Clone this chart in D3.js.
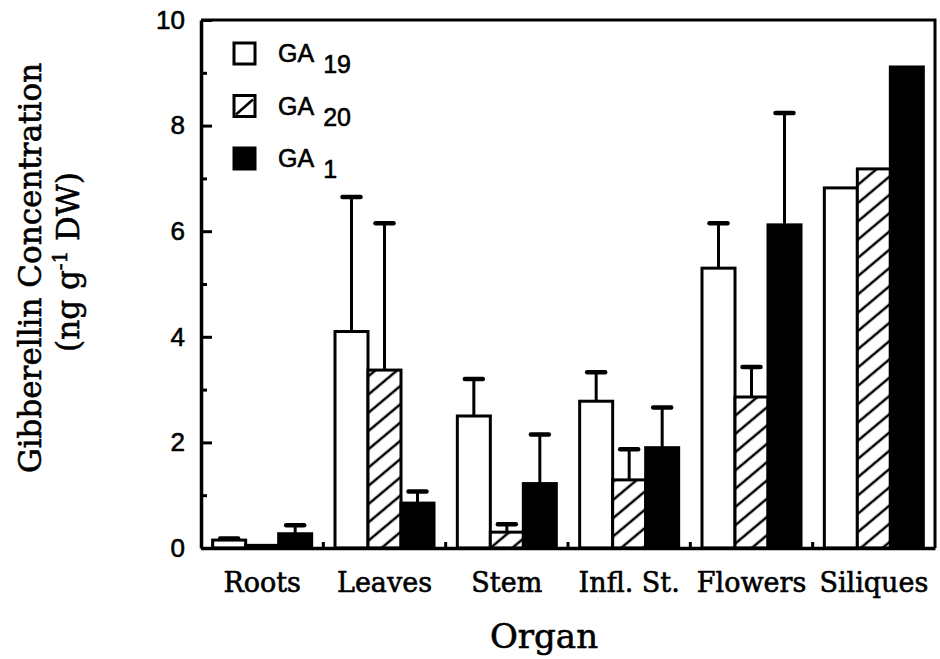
<!DOCTYPE html>
<html>
<head>
<meta charset="utf-8">
<script src="https://cdn.jsdelivr.net/npm/d3@7"></script>
<style>
  body { margin: 0; background: #fff; }
  svg { display: block; }
  text { stroke: #000; stroke-width: 0.6px; }
</style>
</head>
<body>
<svg id="chart"></svg>
<script>
// Data (ng g-1 DW)
const organs = ["Roots", "Leaves", "Stem", "Infl. St.", "Flowers", "Siliques"];
const seriesNames = ["GA19", "GA20", "GA1"];
const ga19 = [0.15, 4.1, 2.5, 2.78, 5.3, 6.82];
const ga20 = [0.05, 3.37, 0.3, 1.29, 2.86, 7.18];
const ga1 = [0.27, 0.85, 1.22, 1.9, 6.12, 9.11];
// upward error bars (null = none drawn)
const ga19Err = [0.03, 2.55, 0.7, 0.55, 0.85, null];
const ga20Err = [null, 2.78, 0.15, 0.58, 0.57, null];
const ga1Err = [0.16, 0.22, 0.93, 0.76, 2.12, null];
const yTicks = [0, 2, 4, 6, 8, 10];
const yMinorTicks = [1, 3, 5, 7, 9];

const width = 940, height = 659;
const margin = {top: 20, right: 5, bottom: 111, left: 201};
const serif = "'DejaVu Serif', serif";
const sans = "'Liberation Sans', Arial, sans-serif";

const svg = d3.select("#chart").attr("width", width).attr("height", height);

const x0 = d3.scaleBand()
  .domain(organs)
  .range([margin.left, width - margin.right]);
const x1 = d3.scaleBand()
  .domain(seriesNames)
  .range([0, 99]);
const groupPad = (x0.bandwidth() - 99) / 2;
const y = d3.scaleLinear()
  .domain([0, 10])
  .range([height - margin.bottom, margin.top]);

// hatch pattern for GA20
const defs = svg.append("defs");
const pat = defs.append("pattern")
  .attr("id", "hatch")
  .attr("patternUnits", "userSpaceOnUse")
  .attr("width", 10)
  .attr("height", 14)
  .attr("patternTransform", "rotate(-40)");
pat.append("rect").attr("width", 10).attr("height", 14).attr("fill", "#fff");
pat.append("line")
  .attr("x1", 0).attr("x2", 10)
  .attr("y1", 7).attr("y2", 7)
  .attr("stroke", "#000")
  .attr("stroke-width", 2.5);

const fills = {GA19: "#fff", GA20: "url(#hatch)", GA1: "#000"};
const values = {GA19: ga19, GA20: ga20, GA1: ga1};
const errors = {GA19: ga19Err, GA20: ga20Err, GA1: ga1Err};

const rows = [];
organs.forEach((o, i) => {
  seriesNames.forEach((s) => {
    rows.push({organ: o, series: s, value: values[s][i], err: errors[s][i]});
  });
});

const barMid = d => x0(d.organ) + groupPad + x1(d.series) + x1.bandwidth() / 2;

// Error bars (behind bars)
const errRows = rows.filter(d => d.err !== null);
const errG = svg.append("g").attr("class", "errors");
errG.selectAll("line.stem")
  .data(errRows)
  .enter().append("line")
  .attr("class", "stem")
  .attr("x1", barMid)
  .attr("x2", barMid)
  .attr("y1", d => y(d.value))
  .attr("y2", d => y(d.value + d.err))
  .attr("stroke", "#000")
  .attr("stroke-width", 3);
errG.selectAll("line.cap")
  .data(errRows)
  .enter().append("line")
  .attr("class", "cap")
  .attr("x1", d => barMid(d) - 9)
  .attr("x2", d => barMid(d) + 9)
  .attr("y1", d => y(d.value + d.err))
  .attr("y2", d => y(d.value + d.err))
  .attr("stroke", "#000")
  .attr("stroke-width", 4.5)
  .attr("stroke-linecap", "round");

// Bars
svg.append("g").attr("class", "bars")
  .selectAll("rect")
  .data(rows)
  .enter().append("rect")
  .attr("x", d => x0(d.organ) + groupPad + x1(d.series))
  .attr("y", d => y(d.value))
  .attr("width", x1.bandwidth())
  .attr("height", d => y(0) - y(d.value))
  .attr("fill", d => fills[d.series])
  .attr("stroke", "#000")
  .attr("stroke-width", 3);

// Frame (top and right)
svg.append("path")
  .attr("d", d3.line()([[margin.left, y(10)], [width - margin.right, y(10)], [width - margin.right, y(0)]]))
  .attr("fill", "none")
  .attr("stroke", "#000")
  .attr("stroke-width", 3);

// Y axis: major ticks with labels, minor ticks without
const yAxis = svg.append("g")
  .attr("transform", "translate(" + margin.left + ",0)")
  .call(d3.axisLeft(y).tickValues(yTicks).tickSize(-11).tickSizeOuter(0).tickPadding(16));
yAxis.select(".domain").attr("stroke-width", 3.5);
yAxis.selectAll(".tick line").attr("stroke-width", 3);
yAxis.selectAll(".tick text")
  .style("font-family", sans)
  .style("font-size", "26px")
  .attr("fill", "#000");

const yMinor = svg.append("g")
  .attr("transform", "translate(" + margin.left + ",0)")
  .call(d3.axisLeft(y).tickValues(yMinorTicks).tickSize(-6).tickFormat(""));
yMinor.select(".domain").remove();
yMinor.selectAll(".tick line").attr("stroke-width", 3);

// X axis
const xAxis = svg.append("g")
  .attr("transform", "translate(0," + y(0) + ")")
  .call(d3.axisBottom(x0).tickSize(0).tickPadding(25).tickSizeOuter(0));
xAxis.select(".domain").attr("stroke-width", 3.5);
xAxis.selectAll(".tick text")
  .style("font-family", serif)
  .style("font-size", "27px")
  .attr("fill", "#000");

// small upward ticks between organ groups
svg.append("g").attr("class", "group-ticks")
  .selectAll("line")
  .data(organs.slice(1))
  .enter().append("line")
  .attr("x1", d => x0(d))
  .attr("x2", d => x0(d))
  .attr("y1", y(0))
  .attr("y2", y(0) - 6)
  .attr("stroke", "#000")
  .attr("stroke-width", 3);

// Axis titles
svg.append("text")
  .attr("x", 544)
  .attr("y", 648)
  .attr("text-anchor", "middle")
  .style("font-family", serif)
  .style("font-size", "34px")
  .text("Organ");

const yTitle = svg.append("text")
  .attr("transform", "translate(41,268) rotate(-90)")
  .attr("text-anchor", "middle")
  .style("font-family", serif)
  .style("font-size", "31px");
yTitle.append("tspan")
  .attr("x", 0).attr("y", 0)
  .text("Gibberellin Concentration");
const yTitle2 = svg.append("text")
  .attr("transform", "translate(79,262) rotate(-90)")
  .attr("text-anchor", "middle")
  .style("font-family", serif)
  .style("font-size", "31px");
yTitle2.append("tspan").text("(ng g");
yTitle2.append("tspan").attr("dy", -12).style("font-size", "20px").text("-1");
yTitle2.append("tspan").attr("dy", 12).text(" DW)");

// Legend
const legendSubs = ["19", "20", "1"];
const legend = svg.append("g").attr("class", "legend")
  .selectAll("g")
  .data(seriesNames)
  .enter().append("g")
  .attr("transform", (d, i) => "translate(234," + (43 + i * 52.5) + ")");
legend.append("rect")
  .attr("width", 21)
  .attr("height", 21)
  .attr("fill", d => d === "GA1" ? "#000" : "#fff")
  .attr("stroke", "#000")
  .attr("stroke-width", 3);
legend.filter(d => d === "GA20")
  .append("line")
  .attr("x1", 2).attr("y1", 19)
  .attr("x2", 19).attr("y2", 4)
  .attr("stroke", "#000")
  .attr("stroke-width", 2.5);
const lt = legend.append("text")
  .attr("x", 44)
  .attr("y", 19)
  .style("font-family", sans)
  .style("font-size", "25px");
lt.append("tspan").text("GA");
lt.append("tspan")
  .attr("dx", 9)
  .attr("dy", 11)
  .text((d, i) => legendSubs[i]);
</script>
</body>
</html>
